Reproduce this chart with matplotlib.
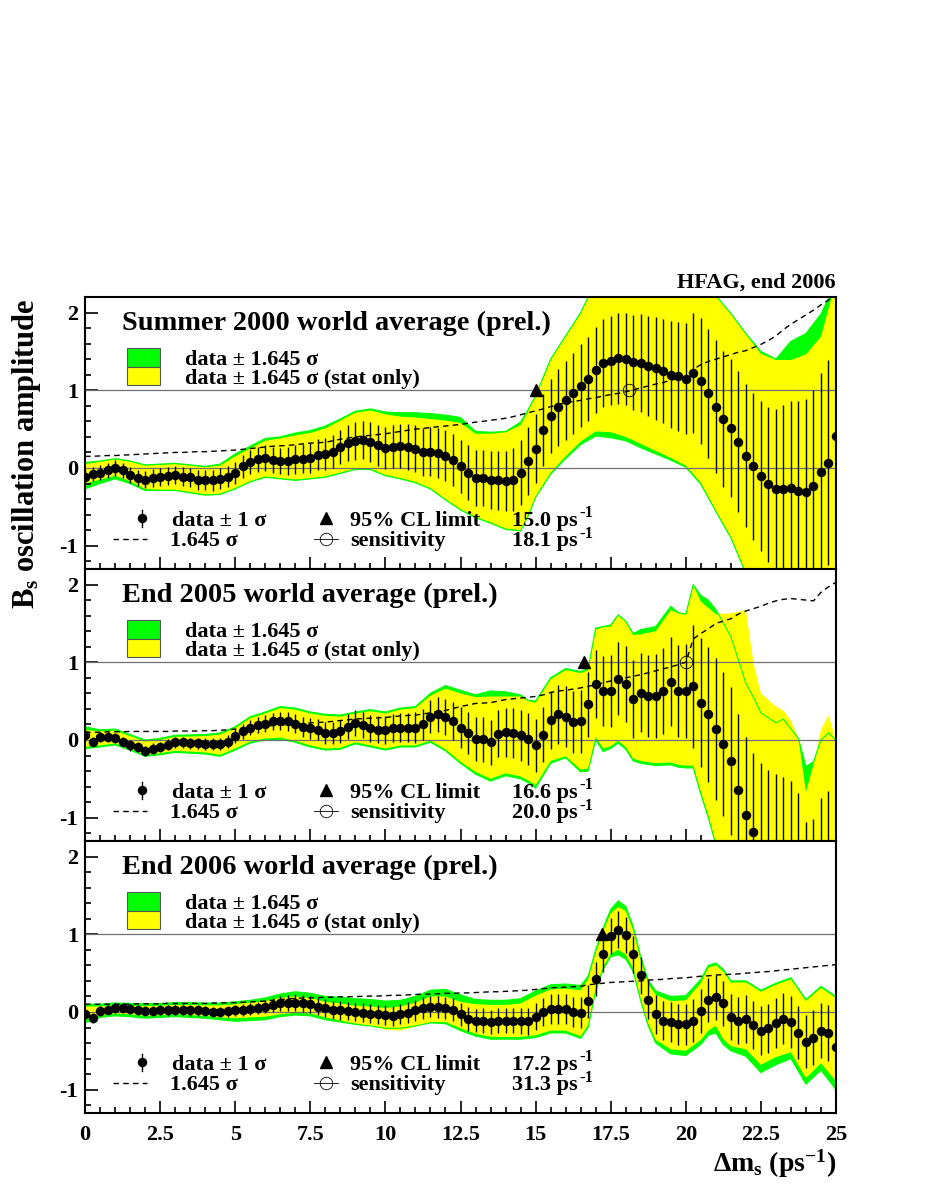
import numpy as np
import matplotlib
matplotlib.use("Agg")
import matplotlib.pyplot as plt
from matplotlib.patches import Rectangle

plt.rcParams['font.family'] = ['Liberation Serif', 'DejaVu Serif']
plt.rcParams['font.weight'] = 'bold'
plt.rcParams['mathtext.fontset'] = 'custom'
plt.rcParams['mathtext.rm'] = 'Liberation Serif:bold'
plt.rcParams['mathtext.it'] = 'Liberation Serif:bold:italic'
plt.rcParams['mathtext.bf'] = 'Liberation Serif:bold'
plt.rcParams['axes.unicode_minus'] = False

# ---------------- data ----------------
dm = np.arange(101) * 0.25  # Delta m_s scan points (ps^-1)

titles = ["Summer 2000 world average (prel.)",
          "End 2005 world average (prel.)",
          "End 2006 world average (prel.)"]
cl_limits = [15.0, 16.6, 17.2]
sensitivities = [18.1, 20.0, 31.3]

amp_2000 = [-0.12,-0.08,-0.06,-0.03,0.00,-0.03,-0.09,-0.13,-0.15,-0.13,
            -0.12,-0.10,-0.09,-0.11,-0.12,-0.15,-0.16,-0.16,-0.14,-0.11,
            -0.06,0.02,0.08,0.11,0.13,0.10,0.09,0.09,0.11,0.12,
            0.13,0.17,0.18,0.21,0.27,0.32,0.35,0.36,0.33,0.29,
            0.26,0.27,0.28,0.27,0.25,0.21,0.21,0.19,0.16,0.10,
            0.02,-0.06,-0.13,-0.13,-0.16,-0.16,-0.17,-0.15,-0.06,0.09,
            0.25,0.49,0.67,0.78,0.87,0.96,1.06,1.15,1.26,1.35,
            1.38,1.41,1.40,1.36,1.35,1.31,1.28,1.25,1.20,1.18,
            1.15,1.22,1.12,0.96,0.79,0.63,0.51,0.34,0.16,0.02,
            -0.10,-0.21,-0.27,-0.27,-0.26,-0.30,-0.31,-0.23,-0.05,0.07,
            0.41]
sig1645_2000 = [0.150,0.150,0.155,0.160,0.160,0.165,0.170,0.175,0.180,0.185,
                0.190,0.195,0.200,0.200,0.205,0.210,0.210,0.215,0.220,0.225,
                0.230,0.240,0.250,0.260,0.270,0.280,0.285,0.290,0.300,0.310,
                0.320,0.325,0.330,0.350,0.370,0.385,0.400,0.410,0.420,0.430,
                0.440,0.455,0.470,0.485,0.500,0.510,0.520,0.530,0.540,0.550,
                0.560,0.575,0.590,0.600,0.615,0.625,0.640,0.660,0.685,0.710,
                0.735,0.760,0.790,0.815,0.840,0.855,0.870,0.890,0.905,0.925,
                0.945,0.960,0.980,1.005,1.030,1.055,1.080,1.100,1.130,1.150,
                1.175,1.270,1.330,1.370,1.400,1.430,1.460,1.490,1.510,1.550,
                1.590,1.640,1.700,1.780,1.850,1.910,1.970,2.030,2.100,2.160,
                2.220]

amp_2005 = [0.06,-0.02,0.04,0.04,0.03,-0.02,-0.07,-0.09,-0.14,-0.11,
            -0.09,-0.06,-0.03,-0.03,-0.04,-0.04,-0.05,-0.05,-0.05,-0.02,
            0.05,0.11,0.16,0.19,0.21,0.24,0.25,0.24,0.21,0.17,
            0.15,0.13,0.09,0.09,0.11,0.17,0.22,0.19,0.15,0.13,
            0.13,0.15,0.16,0.16,0.16,0.20,0.30,0.33,0.30,0.24,
            0.16,0.09,0.01,0.01,-0.03,0.08,0.10,0.09,0.06,0.01,
            -0.07,0.07,0.26,0.33,0.30,0.23,0.24,0.46,0.72,0.63,
            0.63,0.79,0.72,0.53,0.61,0.57,0.56,0.63,0.75,0.63,
            0.63,0.69,0.48,0.33,0.14,-0.05,-0.27,-0.65,-0.97,-1.19,
            -1.34,-1.45,-1.53,-1.58,-1.63,-1.78,-2.15,-2.11,-1.90,-1.85,
            -1.90]
sig1645_2005 = [0.100,0.100,0.100,0.105,0.105,0.105,0.110,0.110,0.110,0.110,
                0.110,0.110,0.115,0.115,0.115,0.115,0.120,0.120,0.125,0.130,
                0.140,0.150,0.160,0.170,0.180,0.185,0.190,0.195,0.200,0.210,
                0.220,0.225,0.230,0.240,0.250,0.260,0.270,0.275,0.280,0.285,
                0.290,0.300,0.310,0.315,0.320,0.335,0.350,0.365,0.380,0.405,
                0.430,0.450,0.470,0.475,0.480,0.500,0.520,0.530,0.540,0.550,
                0.560,0.580,0.610,0.630,0.640,0.655,0.670,0.690,0.710,0.735,
                0.760,0.780,0.800,0.820,0.840,0.865,0.890,0.915,0.940,0.970,
                1.000,1.300,1.370,1.430,1.500,1.530,1.560,1.620,1.660,1.690,
                1.720,1.760,1.790,1.810,1.820,1.810,1.800,1.790,1.900,1.970,
                2.030]

amp_2006 = [-0.03,-0.08,0.01,0.03,0.05,0.05,0.04,0.02,0.01,0.01,
            0.02,0.02,0.03,0.03,0.02,0.02,0.01,0.00,0.00,0.01,
            0.02,0.03,0.04,0.05,0.07,0.09,0.11,0.12,0.12,0.11,
            0.10,0.07,0.05,0.03,0.02,0.01,0.00,-0.01,-0.02,-0.03,
            -0.04,-0.05,-0.03,-0.01,0.02,0.05,0.07,0.06,0.05,0.03,
            -0.03,-0.09,-0.11,-0.11,-0.13,-0.11,-0.11,-0.11,-0.12,-0.12,
            -0.06,0.00,0.04,0.04,0.04,0.00,-0.01,0.14,0.42,0.74,
            0.98,1.06,0.99,0.74,0.47,0.16,-0.03,-0.11,-0.13,-0.16,
            -0.16,-0.11,0.01,0.15,0.19,0.11,-0.06,-0.11,-0.09,-0.17,
            -0.24,-0.21,-0.14,-0.09,-0.13,-0.27,-0.38,-0.33,-0.24,-0.27,
            -0.45]
sig1645_2006 = [0.100,0.100,0.100,0.100,0.100,0.100,0.100,0.105,0.105,0.105,
                0.105,0.110,0.110,0.110,0.110,0.110,0.110,0.115,0.115,0.120,
                0.120,0.125,0.130,0.135,0.140,0.150,0.160,0.170,0.175,0.180,
                0.180,0.185,0.190,0.190,0.195,0.195,0.200,0.200,0.205,0.205,
                0.210,0.215,0.215,0.220,0.225,0.230,0.230,0.235,0.240,0.240,
                0.245,0.245,0.250,0.255,0.260,0.260,0.265,0.270,0.275,0.280,
                0.290,0.300,0.310,0.315,0.320,0.325,0.330,0.350,0.360,0.370,
                0.380,0.385,0.390,0.395,0.400,0.410,0.415,0.420,0.430,0.435,
                0.440,0.450,0.460,0.465,0.475,0.480,0.485,0.490,0.500,0.505,
                0.515,0.520,0.530,0.540,0.550,0.560,0.570,0.580,0.590,0.600,
                0.610]

# band edges: total (green) and stat-only (yellow), read at band_x positions
band_x_2000 = [0,0.5,1,1.5,2,2.5,3,3.5,4,4.5,5,5.5,6,6.5,7,7.5,8,8.5,9,9.5,
               10,10.5,11,11.5,12,12.5,13,13.5,14,14.5,14.75,
               15,15.5,16,16.5,17,17.5,18,18.5,19,19.5,20,20.5,21,21.5,22,22.5,23,23.5,24,24.5,25]
tot_hi_2000 = [0.07,0.09,0.12,0.09,0.04,0.05,0.06,0.04,0.02,0.05,
               0.18,0.28,0.38,0.40,0.45,0.48,0.54,0.63,0.73,0.76,
               0.72,0.71,0.71,0.70,0.68,0.65,0.47,0.46,0.47,0.59,
               0.75,
               0.93,1.40,1.70,2.00,2.40,2.60,2.70,2.70,2.60,2.50,
               2.45,2.35,2.22,1.99,1.73,1.50,1.40,1.63,1.73,1.98,2.40]
tot_lo_2000 = [-0.27,-0.20,-0.14,-0.20,-0.29,-0.29,-0.29,-0.32,-0.35,-0.34,
               -0.27,-0.18,-0.12,-0.14,-0.16,-0.14,-0.12,-0.07,-0.02,-0.02,
               -0.10,-0.14,-0.19,-0.27,-0.41,-0.54,-0.64,-0.71,-0.79,-0.81,
               -0.62,
               -0.38,-0.08,0.12,0.30,0.41,0.39,0.35,0.26,0.18,0.10,
               0.01,-0.21,-0.56,-0.90,-1.36,-1.70,-1.90,-2.00,-2.10,-2.20,-2.30]
stat_hi_2000 = [0.05,0.08,0.11,0.08,0.03,0.04,0.05,0.03,0.01,0.03,
                0.15,0.25,0.35,0.38,0.42,0.45,0.51,0.61,0.71,0.74,
                0.69,0.66,0.65,0.63,0.61,0.58,0.44,0.44,0.46,0.55,
                0.73,
                0.92,1.39,1.69,1.99,2.40,2.60,2.70,2.70,2.60,2.50,
                2.45,2.35,2.21,1.98,1.72,1.47,1.39,1.39,1.46,1.69,2.40]
stat_lo_2000 = [-0.20,-0.15,-0.10,-0.17,-0.27,-0.28,-0.28,-0.31,-0.34,-0.33,
                -0.26,-0.17,-0.11,-0.13,-0.15,-0.13,-0.11,-0.06,-0.01,-0.01,
                -0.09,-0.13,-0.18,-0.26,-0.40,-0.53,-0.63,-0.70,-0.78,-0.80,
                -0.61,
                -0.37,-0.06,0.15,0.34,0.47,0.46,0.40,0.31,0.22,0.13,
                0.03,-0.19,-0.55,-0.89,-1.35,-1.70,-1.90,-2.00,-2.10,-2.20,-2.30]

band_x_2005 = [0,0.5,1,1.5,2,2.5,3,3.5,4,4.5,5,5.5,6,6.5,7,7.5,8,8.5,9,9.5,
               10,10.5,11,11.5,12,12.5,13,13.5,14,14.5,14.75,15,15.5,16,16.5,16.75,
               17,17.25,17.5,17.75,18,18.25,18.5,19,19.5,19.75,20,20.25,20.5,20.75,
               21,21.5,22,22.25,22.5,23,23.25,23.5,23.75,24,24.25,24.5,24.75,25]
tot_hi_2005 = [0.17,0.13,0.14,0.07,0.00,0.02,0.06,0.065,0.07,0.09,
               0.17,0.30,0.36,0.43,0.41,0.36,0.33,0.32,0.36,0.39,
               0.36,0.41,0.43,0.60,0.70,0.64,0.58,0.63,0.62,0.58,
               0.51,0.50,0.80,0.92,0.88,0.92,
               1.44,1.46,1.48,1.61,1.53,1.37,1.42,1.46,1.72,1.64,1.62,2.00,1.86,1.80,
               1.68,1.33,0.73,0.55,0.35,0.22,0.27,0.14,0.02,-0.34,-0.28,0.00,0.09,0.00]
tot_lo_2005 = [-0.11,-0.09,-0.064,-0.13,-0.21,-0.19,-0.16,-0.17,-0.18,-0.21,
               -0.13,-0.04,0.00,0.01,-0.03,-0.09,-0.13,-0.12,-0.05,-0.09,
               -0.13,-0.09,-0.09,-0.03,-0.14,-0.30,-0.44,-0.53,-0.46,-0.50,
               -0.55,-0.62,-0.30,-0.23,-0.41,-0.40,
               0.00,-0.15,-0.11,-0.04,-0.12,-0.27,-0.30,-0.33,-0.32,-0.35,-0.36,-0.36,-0.70,-1.00,
               -1.35,-1.90,-2.20,-2.30,-2.40,-2.50,-2.50,-2.50,-2.60,-2.80,-2.80,-2.70,-2.70,-2.70]
stat_hi_2005 = [0.13,0.11,0.12,0.05,-0.02,0.00,0.04,0.045,0.05,0.07,
                0.15,0.28,0.34,0.41,0.39,0.34,0.31,0.30,0.34,0.37,
                0.34,0.39,0.41,0.57,0.66,0.60,0.55,0.56,0.56,0.56,
                0.50,0.48,0.78,0.90,0.86,0.90,
                1.42,1.45,1.46,1.60,1.52,1.35,1.36,1.40,1.67,1.63,1.61,1.99,1.78,1.70,
                1.62,1.63,1.67,1.00,0.60,0.43,0.38,0.25,0.02,-0.67,-0.32,0.13,0.32,0.00]
stat_lo_2005 = [-0.09,-0.07,-0.045,-0.11,-0.19,-0.17,-0.14,-0.15,-0.16,-0.19,
                -0.11,-0.02,0.02,0.03,-0.01,-0.07,-0.11,-0.10,-0.03,-0.07,
                -0.11,-0.07,-0.07,-0.01,-0.12,-0.28,-0.41,-0.50,-0.43,-0.47,
                -0.52,-0.58,-0.27,-0.21,-0.38,-0.37,
                0.04,-0.11,-0.08,-0.01,-0.09,-0.24,-0.27,-0.30,-0.29,-0.32,-0.33,-0.33,-0.67,-0.97,
                -1.33,-1.90,-2.20,-2.30,-2.40,-2.50,-2.50,-2.50,-2.60,-2.80,-2.80,-2.70,-2.70,-2.70]

band_x_2006 = [0,0.5,1,1.5,2,2.5,3,3.5,4,4.5,5,5.5,6,6.5,7,7.5,8,8.5,9,9.5,
               10,10.5,11,11.5,12,12.5,13,13.5,14,14.5,15,15.5,16,16.5,
               16.75,17,17.25,17.5,17.75,18,18.25,18.5,18.75,19,19.5,20,20.5,20.75,
               21,21.25,21.5,22,22.5,23,23.5,24,24.5,25]
tot_hi_2006 = [0.10,0.10,0.115,0.11,0.105,0.11,0.12,0.12,0.115,0.115,
               0.13,0.15,0.18,0.23,0.26,0.24,0.20,0.19,0.17,0.16,
               0.14,0.15,0.20,0.28,0.29,0.22,0.16,0.15,0.15,0.17,
               0.27,0.35,0.36,0.34,
               0.46,0.80,1.08,1.32,1.43,1.36,1.10,0.71,0.41,0.27,0.20,0.21,0.42,0.60,
               0.63,0.55,0.40,0.40,0.28,0.37,0.44,0.16,0.33,0.20]
tot_lo_2006 = [-0.14,-0.07,-0.05,-0.06,-0.08,-0.07,-0.06,-0.07,-0.08,-0.10,
               -0.12,-0.11,-0.10,-0.06,-0.04,-0.05,-0.10,-0.13,-0.16,-0.18,
               -0.21,-0.21,-0.18,-0.14,-0.15,-0.24,-0.31,-0.35,-0.35,-0.35,
               -0.33,-0.27,-0.27,-0.34,
               -0.20,0.27,0.55,0.71,0.735,0.68,0.52,0.14,-0.18,-0.40,-0.54,-0.56,-0.42,-0.30,
               -0.27,-0.42,-0.50,-0.57,-0.78,-0.68,-0.60,-0.93,-0.75,-1.00]
stat_hi_2006 = [0.07,0.07,0.085,0.08,0.075,0.08,0.09,0.09,0.085,0.085,
                0.10,0.12,0.14,0.18,0.20,0.18,0.13,0.11,0.08,0.07,
                0.05,0.07,0.12,0.20,0.20,0.13,0.10,0.09,0.09,0.11,
                0.21,0.29,0.30,0.28,
                0.42,0.76,1.04,1.27,1.35,1.30,1.05,0.66,0.36,0.22,0.14,0.15,0.37,0.57,
                0.60,0.52,0.38,0.38,0.26,0.35,0.42,0.14,0.31,0.18]
stat_lo_2006 = [-0.10,-0.04,-0.02,-0.03,-0.05,-0.04,-0.03,-0.04,-0.05,-0.07,
                -0.08,-0.07,-0.06,-0.03,-0.01,-0.02,-0.07,-0.11,-0.15,-0.18,
                -0.23,-0.24,-0.19,-0.13,-0.13,-0.21,-0.28,-0.32,-0.32,-0.32,
                -0.30,-0.24,-0.24,-0.31,
                -0.17,0.30,0.58,0.75,0.80,0.74,0.56,0.17,-0.15,-0.36,-0.48,-0.50,-0.36,-0.24,
                -0.18,-0.35,-0.44,-0.48,-0.68,-0.58,-0.52,-0.85,-0.66,-0.89]

xtick_labels = ["0", "2.5", "5", "7.5", "10", "12.5", "15", "17.5", "20", "22.5", "25"]
ytick_labels = ["-1", "0", "1", "2"]

panels = [
    (amp_2000, sig1645_2000, band_x_2000, tot_hi_2000, tot_lo_2000, stat_hi_2000, stat_lo_2000),
    (amp_2005, sig1645_2005, band_x_2005, tot_hi_2005, tot_lo_2005, stat_hi_2005, stat_lo_2005),
    (amp_2006, sig1645_2006, band_x_2006, tot_hi_2006, tot_lo_2006, stat_hi_2006, stat_lo_2006),
]

GREEN = '#00ff00'
YELLOW = '#ffff00'

fig = plt.figure(figsize=(9.26, 11.99), dpi=100)
FW, FH = 926.0, 1199.0
left_px, right_px = 85, 836
tops_px = [297, 569, 841]
h_px = 272


def value_with_sup(ax, x, y, value):
    t = ax.text(x, y, '%.1f ps' % value, transform=ax.transAxes, fontsize=16,
                va='baseline', zorder=9)
    ax.annotate('-1', xy=(1, 0), xycoords=t, xytext=(1.0, 9.6),
                textcoords='offset points', fontsize=12, va='baseline', ha='left',
                zorder=9)


for i, (amp, s1645, bx, gh, gl, yh, yl) in enumerate(panels):
    amp = np.asarray(amp); s1645 = np.asarray(s1645)
    bx = np.asarray(bx, float)
    assert len(amp) == len(dm) and len(s1645) == len(dm)
    assert len(bx) == len(gh) == len(gl) == len(yh) == len(yl)
    ax = fig.add_axes([left_px / FW, 1 - (tops_px[i] + h_px) / FH,
                       (right_px - left_px) / FW, h_px / FH])
    # bands
    ax.fill(np.r_[bx, bx[::-1]], np.r_[gh, np.asarray(gl)[::-1]], color=GREEN, lw=0, zorder=1)
    ax.fill(np.r_[bx, bx[::-1]], np.r_[yh, np.asarray(yl)[::-1]], color=YELLOW, lw=0, zorder=2)
    ax.plot(bx, gh, color=GREEN, lw=0.8, zorder=3)
    ax.plot(bx, gl, color=GREEN, lw=0.8, zorder=3)
    # reference lines
    ax.axhline(0, color='#707070', lw=0.9, zorder=4)
    ax.axhline(1, color='#707070', lw=0.9, zorder=4)
    # 1.645 sigma line
    ax.plot(dm, s1645, color='k', lw=1.0, ls=(0, (4, 3)), zorder=5)
    # data points with 1 sigma error bars
    ax.errorbar(dm, amp, yerr=s1645 / 1.645, fmt='o', color='k', ms=5.8,
                elinewidth=1.0, capsize=0, zorder=6)
    # limit and sensitivity markers
    ax.plot([cl_limits[i]], [1.0], marker='^', color='k', ms=9, ls='none', zorder=7)
    if sensitivities[i] <= 25:
        ax.plot([sensitivities[i]], [1.0], marker='o', mfc='none', mec='k',
                ms=9, mew=0.6, ls='none', zorder=7)

    ax.set_xlim(0, 25)
    ax.set_ylim(-1.3, 2.2)
    for s in ax.spines.values():
        s.set_linewidth(1.5)
        s.set_zorder(10)
    ax.set_xticks(np.arange(11) * 2.5)
    ax.set_xticks(np.arange(51) * 0.5, minor=True)
    ax.set_yticks([-1, 0, 1, 2])
    ax.set_yticks(np.arange(-6, 12) * 0.2, minor=True)
    ax.set_yticklabels(ytick_labels)
    ax.tick_params(axis='both', which='both', direction='in', top=False, right=False)
    ax.tick_params(axis='y', which='major', length=9.4, width=1.2, labelsize=16, pad=5)
    ax.tick_params(axis='y', which='minor', length=4.5, width=1.2)
    ax.tick_params(axis='x', which='major', length=8.4, width=1.2, labelsize=16, pad=9)
    ax.tick_params(axis='x', which='minor', length=4.1, width=1.2)
    if i == 2:
        ax.set_xticklabels(xtick_labels)
    else:
        ax.set_xticklabels([])

    T = ax.transAxes
    # title
    ax.text(0.049, 0.879, titles[i], transform=T, fontsize=20.4, va='baseline', ha='left', zorder=9)
    # upper legend
    ax.add_patch(Rectangle((0.056, 0.743), 0.044, 0.070, transform=T, fc=GREEN,
                           ec='#555555', lw=0.8, zorder=9))
    ax.add_patch(Rectangle((0.056, 0.677), 0.044, 0.066, transform=T, fc=YELLOW,
                           ec='#555555', lw=0.8, zorder=9))
    ax.text(0.133, 0.751, 'data ± 1.645 σ', transform=T, fontsize=16, va='baseline', zorder=9)
    ax.text(0.133, 0.681, 'data ± 1.645 σ (stat only)', transform=T, fontsize=16,
            va='baseline', zorder=9)
    # lower legend
    ax.plot([0.076], [0.186], 'o', color='k', ms=5.8, transform=T, zorder=9)
    ax.plot([0.076, 0.076], [0.155, 0.217], color='k', lw=1.0, transform=T, zorder=9)
    ax.text(0.116, 0.159, 'data ± 1 σ', transform=T, fontsize=16, va='baseline', zorder=9)
    ax.plot([0.037, 0.082], [0.109, 0.109], color='k', lw=1.0, ls=(0, (4, 3)),
            transform=T, zorder=9)
    ax.text(0.113, 0.085, '1.645 σ', transform=T, fontsize=16, va='baseline', zorder=9)
    ax.plot([0.321], [0.186], '^', color='k', ms=9, transform=T, zorder=9)
    ax.text(0.353, 0.159, '95% CL limit', transform=T, fontsize=16, va='baseline', zorder=9)
    ax.plot([0.305, 0.337], [0.109, 0.109], color='k', lw=0.6, transform=T, zorder=9)
    ax.plot([0.321], [0.109], 'o', mfc='none', mec='k', ms=9, mew=0.6, transform=T, zorder=9)
    ax.text(0.353, 0.085, 'sensitivity', transform=T, fontsize=16, va='baseline', zorder=9)
    value_with_sup(ax, 0.569, 0.159, cl_limits[i])
    value_with_sup(ax, 0.569, 0.085, sensitivities[i])

fig.text(836 / FW, 1 - 288 / FH, 'HFAG, end 2006', ha='right', va='baseline', fontsize=16)
fig.text(836 / FW, 1 - 1172 / FH, r'Δm$_\mathrm{s}$ (ps$^{-1}$)', ha='right',
         va='baseline', fontsize=20)
fig.text(27 / FW, 1 - 454 / FH, r'B$_\mathrm{s}$ oscillation amplitude', rotation=90,
         ha='center', va='center', fontsize=22)

fig.savefig('out.png', dpi=100)
